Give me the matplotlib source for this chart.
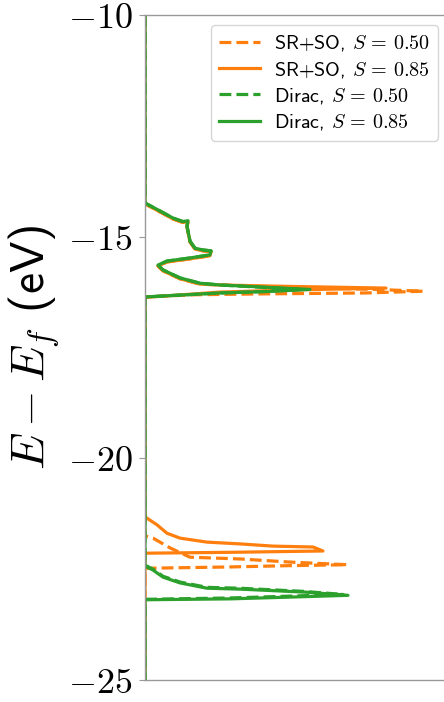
import matplotlib
matplotlib.use("Agg")
import matplotlib.pyplot as plt
from matplotlib.ticker import FixedLocator, FuncFormatter

plt.rcParams["mathtext.fontset"] = "cm"
plt.rcParams["font.family"] = ["cmss10", "DejaVu Sans"]
plt.rcParams["axes.unicode_minus"] = False

# Density of states (arb. units) versus energy E - E_f (eV)
sr_so_050_energy = [-10.0, -14.26, -14.44, -14.60, -14.68, -14.66, -14.78, -15.12, -15.28,
                    -15.32, -15.34, -15.43, -15.50, -15.57, -15.66, -15.77, -15.95, -16.07,
                    -16.09, -16.14, -16.19, -16.23, -16.27, -16.29, -16.31, -16.36,
                    -21.75, -21.80, -22.02, -22.23, -22.27, -22.34, -22.40, -22.42,
                    -22.45, -22.48, -25.0]
sr_so_050_dos = [0, 0, 0.15, 0.28, 0.38, 0.43, 0.42, 0.45, 0.50,
                 0.58, 0.66, 0.65, 0.45, 0.22, 0.13, 0.18, 0.35, 0.55,
                 0.75, 1.40, 2.30, 2.78, 2.20, 1.20, 0.50, 0,
                 0, 0.08, 0.25, 0.45, 0.95, 1.45, 2.02, 1.45,
                 0.85, 0, 0]

sr_so_085_energy = [-10.0, -14.26, -14.44, -14.60, -14.68, -14.66, -14.78, -15.12, -15.28,
                    -15.32, -15.34, -15.43, -15.50, -15.57, -15.66, -15.77, -15.95, -16.07,
                    -16.09, -16.12, -16.16, -16.20, -16.25, -16.37,
                    -21.32, -21.50, -21.69, -21.80, -21.89, -21.93, -21.98, -22.00,
                    -22.09, -22.12, -22.14, -25.0]
sr_so_085_dos = [0, 0, 0.15, 0.28, 0.38, 0.43, 0.42, 0.45, 0.50,
                 0.58, 0.66, 0.65, 0.45, 0.22, 0.13, 0.18, 0.35, 0.55,
                 0.75, 1.40, 2.41, 1.50, 0.75, 0,
                 0, 0.12, 0.22, 0.35, 0.62, 0.95, 1.28, 1.68,
                 1.78, 0.85, 0, 0]

dirac_050_energy = [-10.0, -14.24, -14.42, -14.58, -14.66, -14.64, -14.76, -15.10, -15.26,
                    -15.30, -15.32, -15.41, -15.48, -15.55, -15.64, -15.75, -15.93, -16.05,
                    -16.09, -16.14, -16.19, -16.24, -16.27, -16.36,
                    -22.41, -22.50, -22.66, -22.79, -22.91, -22.93, -23.00, -23.07,
                    -23.11, -23.15, -23.18, -25.0]
dirac_050_dos = [0, 0, 0.15, 0.28, 0.38, 0.43, 0.42, 0.45, 0.50,
                 0.58, 0.66, 0.65, 0.45, 0.22, 0.13, 0.18, 0.35, 0.55,
                 0.75, 1.15, 1.58, 1.15, 0.75, 0,
                 0, 0.08, 0.18, 0.35, 0.62, 0.95, 1.58, 1.98,
                 1.42, 0.85, 0, 0]

dirac_085_energy = [-10.0, -14.24, -14.42, -14.58, -14.66, -14.64, -14.76, -15.10, -15.26,
                    -15.30, -15.32, -15.41, -15.48, -15.55, -15.64, -15.75, -15.93, -16.05,
                    -16.09, -16.14, -16.19, -16.24, -16.27, -16.36,
                    -22.43, -22.52, -22.68, -22.81, -22.93, -22.95, -23.02, -23.09,
                    -23.13, -23.17, -23.19, -25.0]
dirac_085_dos = [0, 0, 0.15, 0.28, 0.38, 0.43, 0.42, 0.45, 0.50,
                 0.58, 0.66, 0.65, 0.45, 0.22, 0.13, 0.18, 0.35, 0.55,
                 0.75, 1.20, 1.65, 1.20, 0.75, 0,
                 0, 0.08, 0.18, 0.35, 0.62, 0.95, 1.62, 2.03,
                 1.45, 0.85, 0, 0]

labels = [r"SR+SO, $S\,=\,0.50$", r"SR+SO, $S\,=\,0.85$",
          r"Dirac, $S\,=\,0.50$", r"Dirac, $S\,=\,0.85$"]
y_ticks = [-25, -20, -15, -10]

orange = "#ff7f0e"
green = "#2ca02c"
lw = 2.3

fig = plt.figure(figsize=(4.44, 7.02), dpi=100)
ax = fig.add_axes([145 / 444, 22 / 702, 303 / 444, 665 / 702])

ax.plot(sr_so_050_dos, sr_so_050_energy, color=orange, ls="--", lw=lw, label=labels[0])
ax.plot(sr_so_085_dos, sr_so_085_energy, color=orange, ls="-", lw=lw, label=labels[1])
ax.plot(dirac_050_dos, dirac_050_energy, color=green, ls="--", lw=lw, label=labels[2])
ax.plot(dirac_085_dos, dirac_085_energy, color=green, ls="-", lw=lw, label=labels[3])

ax.set_xlim(0, 3.03)
ax.set_ylim(-25, -10)
ax.set_xticks([])
ax.yaxis.set_major_locator(FixedLocator(y_ticks))
ax.yaxis.set_major_formatter(FuncFormatter(lambda v, p: rf"${v:g}$"))
ax.tick_params(axis="y", labelsize=26, color="#999999", length=4, pad=5)

for side in ax.spines.values():
    side.set_color("#999999")
    side.set_linewidth(1.0)

ax.set_ylabel(r"$E - E_f$ (eV)", fontsize=34, labelpad=4)

ax.legend(loc="upper right", fontsize=14.5, handlelength=2.0, handletextpad=0.7,
          labelspacing=0.32, borderaxespad=0.5)

fig.savefig("out.png", dpi=100)
